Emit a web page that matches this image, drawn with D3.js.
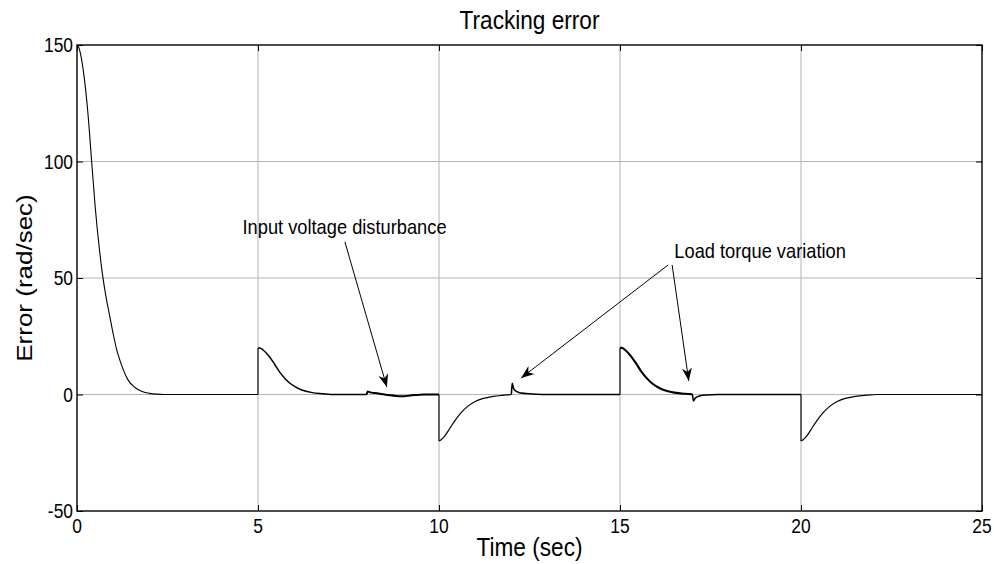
<!DOCTYPE html>
<html>
<head>
<meta charset="utf-8">
<script src="https://cdn.jsdelivr.net/npm/d3@7"></script>
<style>
  html, body { margin: 0; padding: 0; background: #fff; }
  svg { display: block; }
  text { font-family: "Liberation Sans", Arial, sans-serif; fill: #000; }
</style>
</head>
<body>
<svg id="chart" width="994" height="564"></svg>
<script>
// ---------------- data ----------------
const xTicks = [0, 5, 10, 15, 20, 25];
const yTicks = [-50, 0, 50, 100, 150];
const xDomain = [0, 25];
const yDomain = [-50, 150];

// initial transient from 150 rad/s
const startT = [0, 0.05, 0.1, 0.2, 0.3, 0.4, 0.5, 0.6, 0.7, 0.8, 0.9, 1.0, 1.1, 1.2, 1.4, 1.6, 1.8, 2.0, 2.2, 2.4, 5.0];
const startE = [150, 149, 146, 136, 121, 101, 81, 65, 52, 42, 34, 26, 19, 14, 6.5, 3, 1.3, 0.5, 0.15, 0, 0];

// reference step +20 at t = 5
const step5T = [5, 5.05, 5.15, 5.3, 5.45, 5.6, 5.75, 5.9, 6.1, 6.3, 6.5, 6.8, 7.0, 8.0];
const step5E = [20, 20, 19, 16.5, 13.2, 9.6, 6.8, 4.6, 2.7, 1.5, 0.8, 0.3, 0, 0];

// input voltage disturbance around t = 8
const dist8T = [8.0, 8.03, 8.1, 8.25, 8.4, 8.6, 8.8, 9.0, 9.2, 9.4, 9.6, 10.0];
const dist8E = [0, 1.3, 0.9, 0.6, 0.2, -0.2, -0.6, -0.8, -0.4, -0.2, 0, 0];

// reference step -20 at t = 10
const step10T = [10, 10.05, 10.15, 10.3, 10.45, 10.6, 10.8, 11.0, 11.2, 11.5, 11.8, 12.0];
const step10E = [-20, -19.5, -18, -14.5, -11, -8, -5, -3, -1.8, -0.8, -0.3, 0];

// load torque variation at t = 12
const load12T = [12.0, 12.02, 12.06, 12.12, 12.2, 12.4, 12.7, 13.0, 15.0];
const load12E = [0, 4.8, 2.6, 1.5, 0.9, 0.4, 0.1, 0, 0];

// reference step +20 at t = 15
const step15T = [15, 15.05, 15.15, 15.3, 15.45, 15.6, 15.75, 15.9, 16.1, 16.3, 16.5, 16.8, 17.0];
const step15E = [20, 20, 19, 16.5, 13.2, 9.6, 6.8, 4.6, 2.7, 1.5, 0.8, 0.3, 0.1];

// load torque variation at t = 17
const load17T = [17.0, 17.03, 17.08, 17.2, 17.4, 17.7, 18.0, 20.0];
const load17E = [0.1, -2.8, -1.5, -0.6, -0.2, 0, 0, 0];

// reference step -20 at t = 20
const step20T = [20, 20.05, 20.15, 20.3, 20.45, 20.6, 20.8, 21.0, 21.2, 21.5, 21.8, 22.1, 25.0];
const step20E = [-20, -19.5, -18, -14.5, -11, -8, -5, -3, -1.8, -0.8, -0.3, 0, 0];

const pieces = [
  { name: "start",  t: startT,  e: startE },
  { name: "step5",  t: step5T,  e: step5E },
  { name: "dist8",  t: dist8T,  e: dist8E },
  { name: "step10", t: step10T, e: step10E },
  { name: "load12", t: load12T, e: load12E },
  { name: "step15", t: step15T, e: step15E },
  { name: "load17", t: load17T, e: load17E },
  { name: "step20", t: step20T, e: step20E }
];

// annotations (text anchor and arrows, in data units)
const labelTexts = ["Input voltage disturbance", "Load torque variation"];
const labelT = [7.39, 18.87];
const labelE = [69, 58.6];
const arrowFromT = [7.40, 16.33, 16.44];
const arrowFromE = [65.5, 55.6, 55.6];
const arrowToT = [8.56, 12.27, 16.90];
const arrowToE = [3.2, 7.1, 5.8];

// ---------------- drawing ----------------
const svg = d3.select("#chart");
const M = { left: 77, right: 982, top: 45, bottom: 511 };
const SX = 0.87; // horizontal squeeze of the reference's lettering

const x = d3.scaleLinear().domain(xDomain).range([M.left, M.right]);
const y = d3.scaleLinear().domain(yDomain).range([M.bottom, M.top]);

function label(g, px, py, str, size, anchor, rot) {
  return g.append("text")
    .attr("transform", `translate(${px},${py}) scale(${SX},1)` + (rot ? ` rotate(${rot})` : ""))
    .attr("text-anchor", anchor)
    .style("font-size", size + "px")
    .text(str);
}

// grid
const grid = svg.append("g");
grid.selectAll("line.gx").data(xTicks.slice(1, -1)).enter().append("line")
  .attr("x1", d => x(d)).attr("x2", d => x(d))
  .attr("y1", M.top).attr("y2", M.bottom)
  .attr("stroke", "#b4b4b4").attr("stroke-width", 1);
grid.selectAll("line.gy").data(yTicks.slice(1, -1)).enter().append("line")
  .attr("y1", d => y(d)).attr("y2", d => y(d))
  .attr("x1", M.left).attr("x2", M.right)
  .attr("stroke", "#b4b4b4").attr("stroke-width", 1);

// data line
const line = d3.line().x(d => x(d[0])).y(d => y(d[1])).curve(d3.curveMonotoneX);
const widths = { start: 1.1, step5: 1.5, dist8: 2, step10: 1.2, load12: 1.6, step15: 2.1, load17: 1.6, step20: 1.2 };
const jump = d3.line().x(d => x(d[0])).y(d => y(d[1]));
pieces.forEach((p, i) => {
  const pts = p.t.map((t, k) => [t, p.e[k]]);
  svg.append("path").attr("d", line(pts))
    .attr("fill", "none").attr("stroke", "#000")
    .attr("stroke-width", widths[p.name]).attr("stroke-linejoin", "round");
  if (i > 0) {
    const prev = pieces[i - 1];
    const a = [prev.t[prev.t.length - 1], prev.e[prev.e.length - 1]];
    const b = pts[0];
    svg.append("path").attr("d", jump([a, b]))
      .attr("fill", "none").attr("stroke", "#000").attr("stroke-width", 1.1);
  }
});

// axes frame
svg.append("rect")
  .attr("x", M.left).attr("y", M.top)
  .attr("width", M.right - M.left).attr("height", M.bottom - M.top)
  .attr("fill", "none").attr("stroke", "#000").attr("stroke-width", 1.4);

// ticks via d3 axes (inward)
const tl = 6;
const axB = d3.axisBottom(x).tickValues(xTicks).tickSize(-tl).tickFormat("");
const axT = d3.axisTop(x).tickValues(xTicks).tickSize(-tl).tickFormat("");
const axL = d3.axisLeft(y).tickValues(yTicks).tickSize(-tl).tickFormat("");
const axR = d3.axisRight(y).tickValues(yTicks).tickSize(-tl).tickFormat("");
[[axB, `translate(0,${M.bottom})`], [axT, `translate(0,${M.top})`],
 [axL, `translate(${M.left},0)`], [axR, `translate(${M.right},0)`]].forEach(([ax, tr]) => {
  const g = svg.append("g").attr("transform", tr).call(ax);
  g.select(".domain").remove();
  g.selectAll("line").attr("stroke", "#000").attr("stroke-width", 1);
});

// tick labels
const tg = svg.append("g");
xTicks.forEach(v => label(tg, x(v), M.bottom + 22, String(v), 20, "middle"));
yTicks.forEach(v => label(tg, M.left - 4, y(v) + 7, String(v), 20, "end"));

// titles
label(svg, (M.left + M.right) / 2, 29, "Tracking error", 26, "middle");
label(svg, (M.left + M.right) / 2, 556, "Time (sec)", 26, "middle");
label(svg, 32, (M.top + M.bottom) / 2, "Error (rad/sec)", 26, "middle", -90);

// annotations
const ag = svg.append("g");
labelTexts.forEach((s, i) => label(ag, x(labelT[i]), y(labelE[i]), s, 21, "middle"));

svg.append("defs").append("marker")
  .attr("id", "arr").attr("viewBox", "-14 -6 16 12")
  .attr("refX", 0).attr("refY", 0)
  .attr("markerWidth", 16).attr("markerHeight", 12)
  .attr("markerUnits", "userSpaceOnUse")
  .attr("orient", "auto")
  .append("path").attr("d", "M0,0 L-13,-5 L-9,0 L-13,5 Z").attr("fill", "#000");

arrowFromT.forEach((t0, i) => {
  ag.append("line")
    .attr("x1", x(t0)).attr("y1", y(arrowFromE[i]))
    .attr("x2", x(arrowToT[i])).attr("y2", y(arrowToE[i]))
    .attr("stroke", "#000").attr("stroke-width", 1)
    .attr("marker-end", "url(#arr)");
});
</script>
</body>
</html>
